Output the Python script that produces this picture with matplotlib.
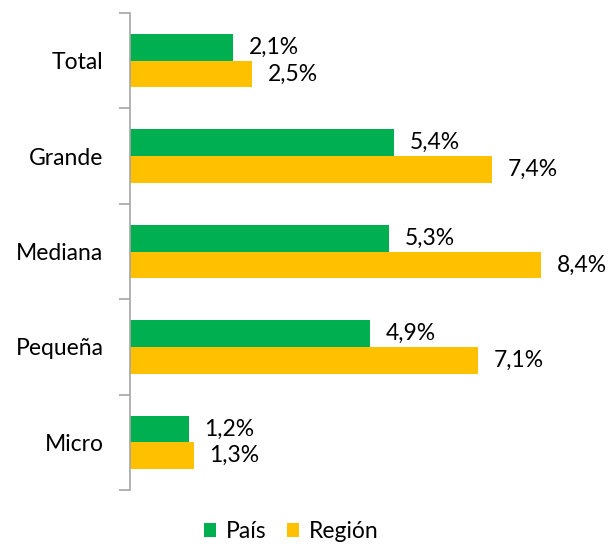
import numpy as np
import matplotlib.pyplot as plt

plt.rcParams['font.family'] = ['Lato', 'DejaVu Sans']

categories = ['Total', 'Grande', 'Mediana', 'Pequeña', 'Micro']
pais = [2.1, 5.4, 5.3, 4.9, 1.2]
region = [2.5, 7.4, 8.4, 7.1, 1.3]
series_names = ['País', 'Región']
colors = ['#00B050', '#FFC000']


def fmt(v):
    return ('%.1f%%' % v).replace('.', ',')


def main():
    fig = plt.figure(figsize=(6.12, 5.44), dpi=100)
    ax = fig.add_axes([130 / 612, 1 - 490 / 544, 470 / 612, 477 / 544])

    y = np.arange(len(categories))
    h = 0.28
    bars1 = ax.barh(y - h / 2, pais, height=h, color=colors[0], label=series_names[0])
    bars2 = ax.barh(y + h / 2, region, height=h, color=colors[1], label=series_names[1])

    for bars, vals in ((bars1, pais), (bars2, region)):
        for b, v in zip(bars, vals):
            ax.text(b.get_width() + 0.32, b.get_y() + b.get_height() / 2, fmt(v),
                    va='center', ha='left', fontsize=16.5, color='#000000')

    ax.set_xlim(0, 9.6)
    ax.set_ylim(len(categories) - 0.5, -0.5)
    ax.set_yticks(y)
    ax.set_yticklabels(categories, fontsize=16.5)
    ax.set_yticks(np.arange(len(categories) + 1) - 0.5, minor=True)
    ax.tick_params(axis='y', which='major', length=0, pad=19)
    ax.tick_params(axis='y', which='minor', length=8, color='#A6A6A6', width=1.2)
    ax.set_xticks([])
    for s in ('top', 'right', 'bottom'):
        ax.spines[s].set_visible(False)
    ax.spines['left'].set_color('#A6A6A6')
    ax.spines['left'].set_linewidth(1.2)

    fig.legend(loc='center', bbox_to_anchor=(291 / 612, 1 - 532 / 544),
               bbox_transform=fig.transFigure,
               ncol=2, frameon=False, fontsize=16.5, handlelength=0.55, handleheight=0.55,
               handletextpad=0.4, columnspacing=0.9, borderpad=0)

    fig.savefig('out.png', dpi=100)


if __name__ == '__main__':
    main()
